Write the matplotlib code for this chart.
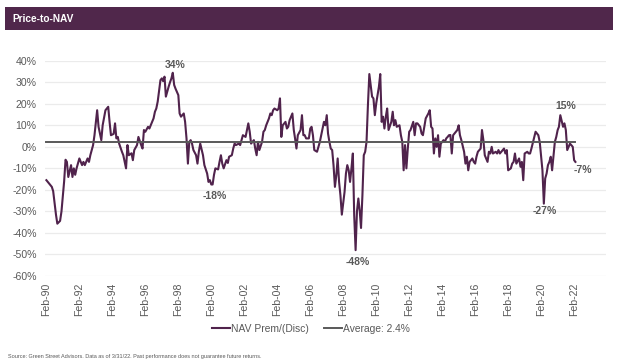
import matplotlib
matplotlib.use("Agg")
import matplotlib.pyplot as plt
import matplotlib.dates as mdates
from matplotlib.patches import Rectangle
from matplotlib.lines import Line2D
import pandas as pd

plt.rcParams['font.family'] = ['Liberation Sans', 'DejaVu Sans']

title = "Price-to-NAV"
source = ("Source: Green Street Advisors. Data as of 3/31/22. "
          "Past performance does not guarantee future returns.")
series_name = "NAV Prem/(Disc)"
average_value = 2.4
average_name = "Average: 2.4%"

dates = [
    "1990-02", "1990-04", "1990-06", "1990-07", "1990-09", "1990-10", "1990-12",
    "1991-01", "1991-03", "1991-04", "1991-05", "1991-06", "1991-08", "1991-09", "1991-10", "1991-11", "1991-12",
    "1992-02", "1992-04", "1992-05", "1992-06", "1992-08", "1992-09", "1992-10", "1992-12",
    "1993-01", "1993-03", "1993-04", "1993-06", "1993-07", "1993-09", "1993-11", "1993-12",
    "1994-01", "1994-03", "1994-04", "1994-05", "1994-06", "1994-07", "1994-09", "1994-10", "1994-12",
    "1995-01", "1995-02", "1995-04", "1995-05", "1995-06", "1995-08", "1995-09", "1995-11", "1995-12",
    "1996-01", "1996-02", "1996-04", "1996-05", "1996-07", "1996-08", "1996-09", "1996-10", "1996-11",
    "1997-01", "1997-02", "1997-03", "1997-04", "1997-05", "1997-07", "1997-08", "1997-09", "1997-10", "1997-11", "1997-12",
    "1998-02", "1998-03", "1998-04", "1998-06", "1998-07", "1998-08", "1998-09", "1998-10", "1998-11", "1998-12",
    "1999-01", "1999-03", "1999-04", "1999-05", "1999-06", "1999-08", "1999-09", "1999-11", "1999-12",
    "2000-01", "2000-02", "2000-03", "2000-04", "2000-05", "2000-07", "2000-08", "2000-09", "2000-10", "2000-11",
    "2001-01", "2001-02", "2001-03", "2001-05", "2001-06", "2001-07", "2001-08", "2001-10", "2001-11", "2001-12",
    "2002-01", "2002-03", "2002-04", "2002-05", "2002-06", "2002-07", "2002-09", "2002-10", "2002-11", "2002-12",
    "2003-01", "2003-03", "2003-04", "2003-05", "2003-06", "2003-08", "2003-09", "2003-10", "2003-11", "2003-12",
    "2004-02", "2004-03", "2004-04", "2004-05", "2004-06", "2004-08", "2004-09", "2004-10", "2004-11",
    "2005-01", "2005-02", "2005-03", "2005-04", "2005-05", "2005-07", "2005-08", "2005-09", "2005-10", "2005-11",
    "2006-01", "2006-02", "2006-03", "2006-04", "2006-05", "2006-07", "2006-08", "2006-09", "2006-10", "2006-12",
    "2007-01", "2007-02", "2007-03", "2007-04", "2007-05", "2007-06", "2007-07", "2007-08", "2007-09", "2007-10", "2007-11", "2007-12",
    "2008-01", "2008-03", "2008-04", "2008-05", "2008-06", "2008-07", "2008-08", "2008-09", "2008-10", "2008-11", "2008-12",
    "2009-01", "2009-02", "2009-03", "2009-04", "2009-05", "2009-06", "2009-07", "2009-08", "2009-09", "2009-11", "2009-12",
    "2010-01", "2010-02", "2010-04", "2010-05", "2010-06", "2010-07", "2010-08", "2010-09", "2010-10", "2010-11",
    "2011-01", "2011-02", "2011-03", "2011-04", "2011-05", "2011-07", "2011-08", "2011-09", "2011-10", "2011-11", "2011-12",
    "2012-01", "2012-02", "2012-03", "2012-05", "2012-06", "2012-07", "2012-08", "2012-10", "2012-11", "2012-12",
    "2013-01", "2013-02", "2013-04", "2013-05", "2013-06", "2013-07", "2013-08", "2013-09", "2013-10", "2013-11", "2013-12",
    "2014-01", "2014-03", "2014-04", "2014-05", "2014-06", "2014-07", "2014-08", "2014-09", "2014-10", "2014-11",
    "2015-01", "2015-02", "2015-03", "2015-04", "2015-06", "2015-07", "2015-08", "2015-09", "2015-10", "2015-12",
    "2016-01", "2016-02", "2016-03", "2016-04", "2016-06", "2016-07", "2016-08", "2016-09", "2016-11", "2016-12",
    "2017-01", "2017-02", "2017-03", "2017-05", "2017-06", "2017-07", "2017-08", "2017-09", "2017-11", "2017-12",
    "2018-01", "2018-02", "2018-04", "2018-05", "2018-06", "2018-07", "2018-08", "2018-10", "2018-11", "2018-12",
    "2019-01", "2019-02", "2019-04", "2019-05", "2019-06", "2019-07", "2019-09", "2019-10", "2019-11", "2019-12",
    "2020-01", "2020-03", "2020-04", "2020-05", "2020-06", "2020-07", "2020-08", "2020-09", "2020-10", "2020-12",
    "2021-01", "2021-02", "2021-03", "2021-04", "2021-06", "2021-07", "2021-08", "2021-09", "2021-11", "2021-12",
    "2022-01", "2022-02", "2022-03",
]

nav_prem = [
    -15.5, -17, -18.6, -20.6, -31.5, -35.7, -34.4,
    -30, -16, -6, -7, -14, -8.5, -14, -10, -13, -10,
    -5.4, -8.5, -7, -8.5, -5.4, -7, -3.9, 0.8,
    5.4, 17, 9.3, 3.1, 10, 17, 18.6, 11.6,
    5.4, 6, 10.9, 3.9, 4.6, 1.5, -2.3, -3.9, -10,
    0.8, -3.9, -3, -6.2, -1.5, 0.8, 4.6, 0.8, -0.8,
    7.8, 7, 9.3, 8.5, 11.6, 13.2, 16.3, 17.8, 21,
    31, 31.8, 30.5, 32.6, 23.3, 27.9, 30, 31.8, 34.4, 28.7, 27,
    24, 15.5, 14, 15.5, 11.6, 3.9, -7.8, 2.3, 3.1, 1.5,
    -1.5, -3.9, -7.8, -2.3, 1.5, -3.9, -8.5, -12.4, -16.3,
    -15.5, -17.5, -17.5, -13, -10, -10.5, -7, -3.9, -7.8, -10,
    -6.2, -7.5, -4.6, -3.9, -0.8, 1.5, 0.8, 1.5, 0.8, 3.1,
    5.4, 4.6, 7.8, 10.9, 7, 1.5, 3.1, -0.8, -3.9, 2.3,
    -1.5, 2.3, 7, 7.8, 10, 13.2, 15.5, 14.7, 17, 17.8,
    17, 17.8, 22.5, 4.6, 10, 11.6, 8.5, 9.3, 12.4,
    15.5, 7.8, 3.9, -0.8, 5.4, 7.8, 14.7, 5.4, 5.4, 3.9,
    3.9, 8.5, 9.3, 5.4, -1.5, -2.3, 0, 2.3, 5.4, 11.6,
    10, 14.7, 6.2, 2.3, -0.8, -1.5, -8.5, -18.6, -13.2, -5.4, -16.3, -22.5,
    -31.5, -21, -12.4, -8.5, -10.9, -16.3, -10, -3.1, -31.8, -48, -30,
    -24, -30, -37.7, -22.5, -3.9, -2.3, 2.3, 19.4, 33.8, 23.3, 22.5,
    14.7, 20.2, 27.9, 33.8, 11.6, 14, 8.5, 14, 17.8, 7.8,
    11.6, 16.3, 10, 12.4, 9.3, 10, 5.4, 2.3, -10.9, 0.8, -10,
    -0.8, 7, 7.8, 11.6, 5.4, 10.9, 10.9, 9.3, 6.2, 5.4,
    9.3, 13.2, 15.5, 17, 9.3, 8.5, -3.1, 3.9, 0, 5.4, -4.6,
    1.5, 3.1, 2.3, 3.9, 4.6, 5.4, 5.5, -3.1, 5.4, 6.2,
    7.8, 10, 5.4, 3.1, -2.3, -7.8, -4.6, -10.9, -7, -5.4,
    -7, -7.8, -4.6, -2.3, -0.8, 7.8, 3.1, -3.9, -7, -2.3,
    -3.1, 0, -3.1, -2.3, -3.1, -1.5, -3.1, -2.3, -0.8, -3.1,
    -1.5, -10.9, -10, -7.8, -7, -3.1, -7.8, -5.4, -9.3, -7,
    -15.5, -3.1, -2.3, -3.1, -3.1, -0.8, 4.6, 7, 6.2, 5.4,
    2.3, -10.9, -26.4, -14.7, -12.4, -8.5, -7, -4.6, -10.9, 2.3,
    4.6, 7.8, 9.3, 14.7, 9.3, 10.9, 7.8, -1.5, 1.5, 0.8,
    0, -6.2, -7,
]

# point labels: (date, text, x offset pt, y offset pt)
point_labels = [
    ("1997-10", "34%", 1.5, 5.5),
    ("2000-02", "-18%", 2.5, -8.5),
    ("2008-11", "-48%", 1.5, -8.5),
    ("2020-04", "-27%", 1.0, -5.5),
    ("2021-04", "15%", 4.0, 6.5),
    ("2022-03", "-7%", 5.5, -6.0),
]

y_ticks = [-60, -50, -40, -30, -20, -10, 0, 10, 20, 30, 40]
x_tick_years = list(range(1990, 2023, 2))

purple = "#50234C"
gray = "#595959"

x = pd.to_datetime(dates)
value_by_date = dict(zip(dates, nav_prem))

fig = plt.figure(figsize=(6.24, 3.62), dpi=100)
ax = fig.add_axes([45 / 624, 1 - 276 / 362, (605.7 - 45) / 624, (276 - 60.7) / 362])

# title bar
fig.patches.append(Rectangle((5 / 624, 1 - 30 / 362), 608 / 624, 23 / 362,
                             transform=fig.transFigure, facecolor="#50274B",
                             edgecolor="none", zorder=0))
fig.text(12 / 624, 1 - 18.5 / 362, title, color="white", fontsize=7.3,
         fontweight="bold", va="center", ha="left")

for yv in y_ticks:
    ax.axhline(yv, color="#EBEBEB", lw=0.9, zorder=0)

ax.plot(x, nav_prem, color=purple, lw=1.5, zorder=3, label=series_name)
ax.plot([x[0], x[-1]], [average_value, average_value], color=gray, lw=1.4,
        zorder=4, label=average_name)

for d, txt, dx, dy in point_labels:
    ax.annotate(txt, xy=(pd.Timestamp(d), value_by_date[d]), xytext=(dx, dy),
                textcoords="offset points", ha="center", va="center",
                fontsize=7.5, fontweight="bold", color=gray, zorder=5)

ax.set_ylim(-60, 40)
ax.set_xlim(pd.Timestamp("1990-01-01"), pd.Timestamp("2024-01-01"))
ax.set_yticks(y_ticks)
ax.set_yticklabels([f"{v}%" for v in y_ticks])
ax.set_xticks([pd.Timestamp(f"{yy}-02-01") for yy in x_tick_years])
ax.xaxis.set_major_formatter(mdates.DateFormatter("%b-%y"))
ax.tick_params(axis="x", length=0, labelsize=7.6, colors=gray, rotation=90, pad=5)
ax.tick_params(axis="y", length=0, labelsize=7.6, colors=gray, pad=6)
for s in ax.spines.values():
    s.set_visible(False)

handles = [Line2D([0], [0], color=purple, lw=1.5),
           Line2D([0], [0], color=gray, lw=1.4)]
leg = fig.legend(handles, [series_name, average_name], loc="center",
                 bbox_to_anchor=(311 / 624, 1 - 329 / 362), ncol=2, frameon=False,
                 fontsize=7.4, handlelength=1.8, handletextpad=0.1,
                 columnspacing=1.4)
for t in leg.get_texts():
    t.set_color(gray)

fig.text(8 / 624, 1 - 356.5 / 362, source, fontsize=4.0, color=gray,
         ha="left", va="center")

fig.savefig("out.png", dpi=100)
